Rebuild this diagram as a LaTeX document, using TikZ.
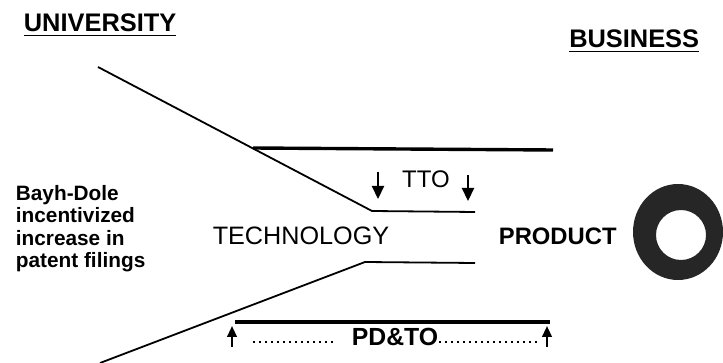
\documentclass[tikz,border=0pt]{standalone}
\usepackage{fontspec}
\setmainfont{Liberation Sans}
\usetikzlibrary{arrows.meta, positioning}

\begin{document}
\begin{tikzpicture}[x=0.5pt, y=-0.5pt, line width=0.9pt]
        \useasboundingbox (0,0) rectangle (723,363);
        \tikzset{
            heading/.style={anchor=base west, inner sep=0pt, font=\bfseries\fontsize{12.7}{14}\selectfont},
            flowline/.style={line width=0.9pt},
            thickline/.style={line width=1.7pt},
            downtip/.style={-{Triangle[length=6.5pt, width=6pt]}, line width=1.1pt},
            uptip/.style={-{Triangle[length=5.5pt, width=4.8pt]}, line width=1.1pt}
        }

        % Headings
        \node[heading] (univ) at (23,32) {\underline{UNIVERSITY}};
        \node[heading, anchor=base east] (busi) at (700,48) {\underline{BUSINESS}};

        % Funnel corners
        \coordinate (ua) at (98,67);
        \coordinate (ub) at (372,211);
        \coordinate (uc) at (475,212);
        \coordinate (la) at (100,363);
        \coordinate (lb) at (365,262);
        \coordinate (lc) at (475,263);
        \draw[flowline] (ua) -- (ub) -- (uc);
        \draw[flowline] (la) -- (lb) -- (lc);

        % Upper and lower bars
        \coordinate (ts) at (253,148);
        \coordinate (te) at (553,150);
        \draw[thickline] (ts) -- (te);
        \coordinate (bs) at (235,322);
        \coordinate (be) at (550,322);
        \draw[thickline, line width=2pt] (bs) -- (be);

        % TTO with its arrows
        \node[anchor=base, inner sep=0pt, font=\fontsize{12}{14}\selectfont] (tto) at (426,188) {TTO};
        \coordinate (t1a) at (378,172);
        \coordinate (t1b) at (378,199);
        \coordinate (t2a) at (468,175);
        \coordinate (t2b) at (468,201);
        \draw[downtip] (t1a) -- (t1b);
        \draw[downtip] (t2a) -- (t2b);

        % Middle labels
        \node[anchor=base, inner sep=0pt, font=\fontsize{12.6}{14}\selectfont] (tech) at (301,245) {TECHNOLOGY};
        \node[anchor=base west, inner sep=0pt, font=\bfseries\fontsize{11.9}{14}\selectfont] (prod) at (498,245) {PRODUCT};

        % Product ring
        \fill[black!85, even odd rule] (678,232) ellipse (45 and 48) (681,235) circle (25);

        % Side note
        \node[anchor=base west, inner sep=0pt, align=left, font=\bfseries\fontsize{10.4}{11.3}\selectfont] (note) at (15,268)
            {Bayh-Dole\\incentivized\\increase in\\patent filings};

        % PD&TO with its arrows
        \node[anchor=base, inner sep=0pt, font=\bfseries\fontsize{12.4}{14}\selectfont] (pdto) at (395,345) {PD\&TO};
        \coordinate (p1a) at (232,347);
        \coordinate (p1b) at (232,326);
        \coordinate (p2a) at (547,347);
        \coordinate (p2b) at (547,326);
        \draw[uptip] (p1a) -- (p1b);
        \draw[uptip] (p2a) -- (p2b);
        \coordinate (dl) at (253,342);
        \coordinate (dr) at (537,342);
        \draw[dotted, line width=1pt] (dl) -- (dl -| pdto.west) [shorten >=9pt];
        \draw[dotted, line width=1pt] (dr -| pdto.east) -- (dr);
    \end{tikzpicture}
\end{document}
